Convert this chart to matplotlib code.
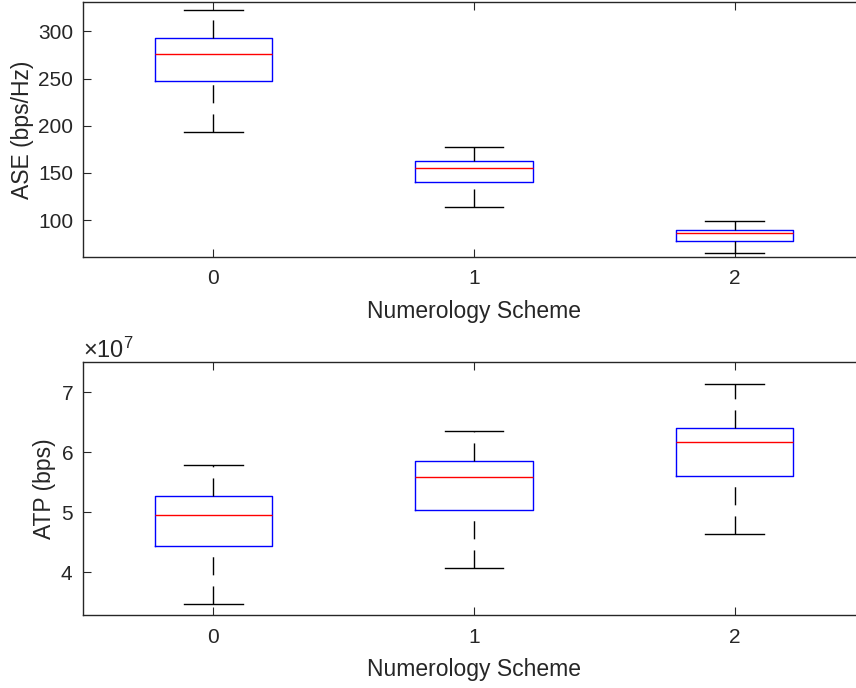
import matplotlib
matplotlib.use("Agg")
import matplotlib.pyplot as plt
from matplotlib.ticker import ScalarFormatter

plt.rcParams['font.family'] = ['Liberation Sans', 'DejaVu Sans']
plt.rcParams['lines.scale_dashes'] = False
plt.rcParams['mathtext.fontset'] = 'custom'
plt.rcParams['mathtext.rm'] = 'Liberation Sans'

# numerology schemes on the x axis
schemes = [0, 1, 2]

# ASE box statistics (bps/Hz)
ase_low = [193.6, 113.7, 64.8]
ase_q1 = [247.2, 140.8, 78.2]
ase_med = [276.0, 155.6, 85.9]
ase_q3 = [292.6, 163.0, 89.1]
ase_high = [322.2, 177.1, 99.3]

# ATP box statistics (bps)
atp_low = [3.472e7, 4.072e7, 4.638e7]
atp_q1 = [4.438e7, 5.038e7, 5.600e7]
atp_med = [4.960e7, 5.583e7, 6.177e7]
atp_q3 = [5.267e7, 5.855e7, 6.405e7]
atp_high = [5.788e7, 6.355e7, 7.143e7]

AX_COLOR = '#262626'


def draw_boxes(ax, low, q1, med, q3, high):
    stats = []
    for i in range(len(schemes)):
        stats.append(dict(whislo=low[i], q1=q1[i], med=med[i], q3=q3[i],
                          whishi=high[i], fliers=[]))
    parts = ax.bxp(stats, positions=schemes, widths=0.45, showfliers=False,
                   boxprops=dict(color='blue', linewidth=1.0),
                   medianprops=dict(color='red', linewidth=1.0),
                   whiskerprops=dict(color='black', linewidth=1.0,
                                     linestyle=(0, (13, 8))),
                   capprops=dict(color='black', linewidth=1.0))
    # dashes run upward from the lower cap and from the box top
    for w in parts['whiskers'][0::2]:
        x, y = w.get_data()
        w.set_data(x[::-1], y[::-1])

    ax.set_xlim(-0.5, 2.5)
    ax.set_xticks(schemes)
    ax.set_xticklabels([str(s) for s in schemes])
    ax.set_xlabel('Numerology Scheme', fontsize=16.5, color=AX_COLOR, labelpad=8)
    ax.tick_params(direction='in', length=5.5, width=0.8, labelsize=15,
                   colors=AX_COLOR, top=True, right=True, pad=9)
    ax.tick_params(axis='y', pad=7)
    for sp in ax.spines.values():
        sp.set_color(AX_COLOR)
        sp.set_linewidth(1.0)


fig = plt.figure(figsize=(8.56, 6.88), dpi=100)
ax1 = fig.add_axes([0.097, 0.6265, 0.9135, 0.3705])
ax2 = fig.add_axes([0.097, 0.1054, 0.9135, 0.3684])

draw_boxes(ax1, ase_low, ase_q1, ase_med, ase_q3, ase_high)
ax1.set_ylim(61, 331)
ax1.set_yticks([100, 150, 200, 250, 300])
ax1.set_ylabel('ASE (bps/Hz)', fontsize=16.5, color=AX_COLOR, labelpad=3)

draw_boxes(ax2, atp_low, atp_q1, atp_med, atp_q3, atp_high)
ax2.set_ylim(3.277e7, 7.505e7)
ax2.set_yticks([4e7, 5e7, 6e7, 7e7])
fmt = ScalarFormatter(useMathText=True)
fmt.set_powerlimits((0, 0))
ax2.yaxis.set_major_formatter(fmt)
ax2.yaxis.get_offset_text().set_fontsize(17)
ax2.yaxis.get_offset_text().set_color(AX_COLOR)
ax2.set_ylabel('ATP (bps)', fontsize=16.5, color=AX_COLOR, labelpad=3)

fig.savefig('out.png', dpi=100)
